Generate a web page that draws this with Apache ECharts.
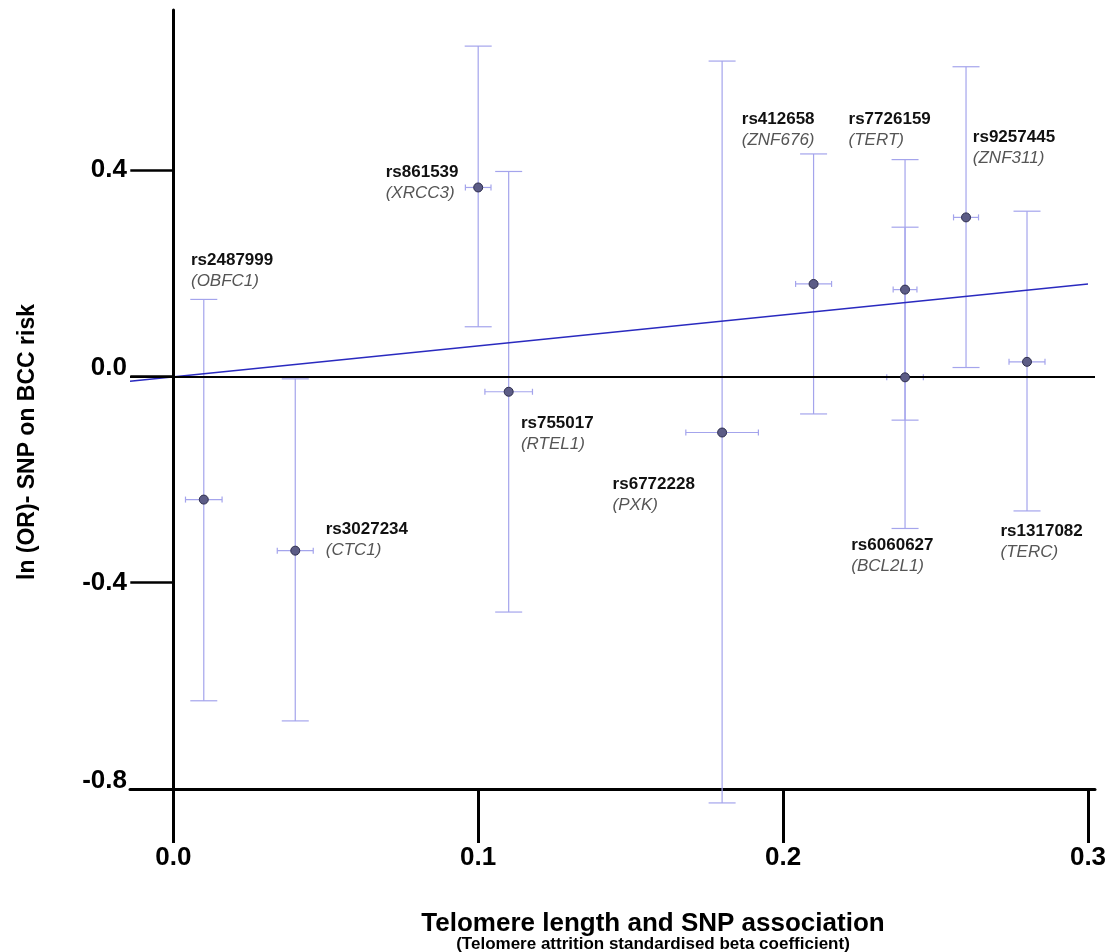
<!DOCTYPE html>
<html>
<head>
<meta charset="utf-8">
<script src="https://cdn.jsdelivr.net/npm/echarts@6/dist/echarts.min.js"></script>
<style>
html,body{margin:0;padding:0;background:#fff;}
#chart{width:1106px;height:952px;}
</style>
</head>
<body>
<div id="chart"></div>
<script>
// ---- data ----
var snpNames = ['rs2487999','rs3027234','rs861539','rs755017','rs6772228','rs412658','rs7726159','rs6060627','rs9257445','rs1317082'];
var geneNames = ['OBFC1','CTC1','XRCC3','RTEL1','PXK','ZNF676','TERT','BCL2L1','ZNF311','TERC'];
var telomereBeta = [0.010, 0.040, 0.100, 0.110, 0.180, 0.210, 0.240, 0.240, 0.260, 0.280];
var betaError = [0.0060, 0.0059, 0.0042, 0.0078, 0.0119, 0.0059, 0.0039, 0.0060, 0.0041, 0.0059];
var lnOR = [-0.239, -0.338, 0.366, -0.030, -0.109, 0.179, 0.168, -0.002, 0.308, 0.028];
var ciLower = [-0.629, -0.668, 0.096, -0.457, -0.827, -0.073, -0.085, -0.295, 0.017, -0.261];
var ciUpper = [0.149, -0.005, 0.640, 0.397, 0.611, 0.431, 0.420, 0.289, 0.600, 0.320];
var regressionLine = [[-0.0142, -0.0097], [0.300, 0.179]];
var xTicks = [0.0, 0.1, 0.2, 0.3];
var yTicks = [-0.8, -0.4, 0.0, 0.4];

// ---- layout (pixel offsets of annotation text from each point) ----
var labelOffsets = [[-12.3,-249.5],[31,-31.2],[-92,-25.5],[12.7,21.8],[-109,42.2],[-71.3,-174.8],[-56,-180.5],[-53.3,157.9],[7.3,-90.5],[-26,159.1]];

var FONT = '"Liberation Sans", Arial, sans-serif';
var SYM = 9;

var barData = telomereBeta.map(function(x,i){ return [x, lnOR[i], ciLower[i], ciUpper[i], betaError[i]]; });
var pointData = telomereBeta.map(function(x,i){
  return {
    value: [x, lnOR[i]],
    name: snpNames[i],
    gene: geneNames[i],
    label: { position: [labelOffsets[i][0] + SYM/2, labelOffsets[i][1] + SYM/2] }
  };
});

var chart = echarts.init(document.getElementById('chart'));

function axisLabelFmt(v){
  var s = (Math.abs(v) < 1e-9 ? 0 : v).toFixed(1);
  if (Math.abs(v) < 1e-9 || Math.abs(v + 0.8) < 1e-9) return '{up|' + s + '}';
  return '{n|' + s + '}';
}

var option = {
  backgroundColor: '#ffffff',
  animation: false,
  title: [
    { text: 'Telomere length and SNP association', left: 648, top: 906, textAlign: 'center',
      textStyle: { fontFamily: FONT, fontSize: 26, fontWeight: 'bold', color: '#000' } },
    { text: '(Telomere attrition standardised beta coefficient)', left: 648, top: 931, textAlign: 'center',
      textStyle: { fontFamily: FONT, fontSize: 17, fontWeight: 'bold', color: '#000' } }
  ],
  graphic: [
    { type: 'text', x: 28, y: 442, rotation: Math.PI/2,
      style: { text: 'ln (OR)- SNP on BCC risk', fontFamily: FONT, fontSize: 23, fontWeight: 'bold',
               fill: '#000', align: 'center', verticalAlign: 'middle' } }
  ],
  grid: { left: 130, right: 11, top: 10, bottom: 163, containLabel: false, outerBoundsMode: 'none' },
  xAxis: {
    type: 'value', min: -0.0142, max: 0.3023,
    axisLine: { onZero: false, lineStyle: { color: '#000', width: 3 } },
    axisTick: { show: true, customValues: xTicks, length: 54, lineStyle: { color: '#000', width: 3 } },
    axisLabel: { customValues: xTicks, margin: 52, padding: [4, 0, 0, 0], formatter: function(v){ return v.toFixed(1); },
      fontFamily: FONT, fontSize: 26, fontWeight: 'bold', color: '#000' },
    splitLine: { show: false }
  },
  yAxis: {
    type: 'value', min: -0.8, max: 0.71,
    axisLine: { onZero: true, lineStyle: { color: '#000', width: 3 } },
    axisTick: { show: true, customValues: yTicks, length: 43, lineStyle: { color: '#000', width: 2.5 } },
    axisLabel: { customValues: yTicks, margin: 3, formatter: axisLabelFmt,
      rich: {
        n: { fontFamily: FONT, fontSize: 26, fontWeight: 'bold', color: '#000' },
        up: { fontFamily: FONT, fontSize: 26, fontWeight: 'bold', color: '#000', padding: [0,0,16,0] }
      } },
    splitLine: { show: false }
  },
  series: [
    {
      type: 'custom', name: 'ci', z: 2, clip: false,
      data: barData,
      renderItem: function(params, api){
        var x = api.value(0), y = api.value(1), lo = api.value(2), hi = api.value(3), xe = api.value(4);
        var pLo = api.coord([x, lo]), pHi = api.coord([x, hi]);
        var pL = api.coord([x - xe, y]), pR = api.coord([x + xe, y]);
        var cw = 13.5, th = 3;
        var st = { stroke: '#a4a4ec', lineWidth: 1.2, fill: null };
        function ln(x1,y1,x2,y2){ return { type: 'line', shape: {x1:x1,y1:y1,x2:x2,y2:y2}, style: st }; }
        return { type: 'group', children: [
          ln(pLo[0], pLo[1], pHi[0], pHi[1]),
          ln(pLo[0]-cw, pLo[1], pLo[0]+cw, pLo[1]),
          ln(pHi[0]-cw, pHi[1], pHi[0]+cw, pHi[1]),
          ln(pL[0], pL[1], pR[0], pR[1]),
          ln(pL[0], pL[1]-th, pL[0], pL[1]+th),
          ln(pR[0], pR[1]-th, pR[0], pR[1]+th)
        ]};
      }
    },
    {
      type: 'line', name: 'zero', z: 3, data: [], symbol: 'none',
      markLine: { silent: true, symbol: 'none', label: { show: false },
        lineStyle: { color: '#000', width: 2, type: 'solid' },
        data: [ { yAxis: 0 } ] }
    },
    {
      type: 'line', name: 'regression', z: 4, data: regressionLine, symbol: 'none',
      lineStyle: { color: '#2a2abf', width: 1.6 }
    },
    {
      type: 'scatter', name: 'snp', z: 5, data: pointData, symbolSize: SYM,
      itemStyle: { color: '#5c5c86', borderColor: '#2e2e4e', borderWidth: 1, opacity: 1 },
      label: {
        show: true, align: 'left', verticalAlign: 'top',
        formatter: function(p){ return '{b|' + p.data.name + '}\n{i|(' + p.data.gene + ')}'; },
        rich: {
          b: { fontFamily: FONT, fontSize: 17, fontWeight: 'bold', color: '#111', lineHeight: 21 },
          i: { fontFamily: FONT, fontSize: 17, fontStyle: 'italic', color: '#555', lineHeight: 21 }
        }
      },
      emphasis: { disabled: true }
    }
  ]
};
chart.setOption(option);
</script>
</body>
</html>
